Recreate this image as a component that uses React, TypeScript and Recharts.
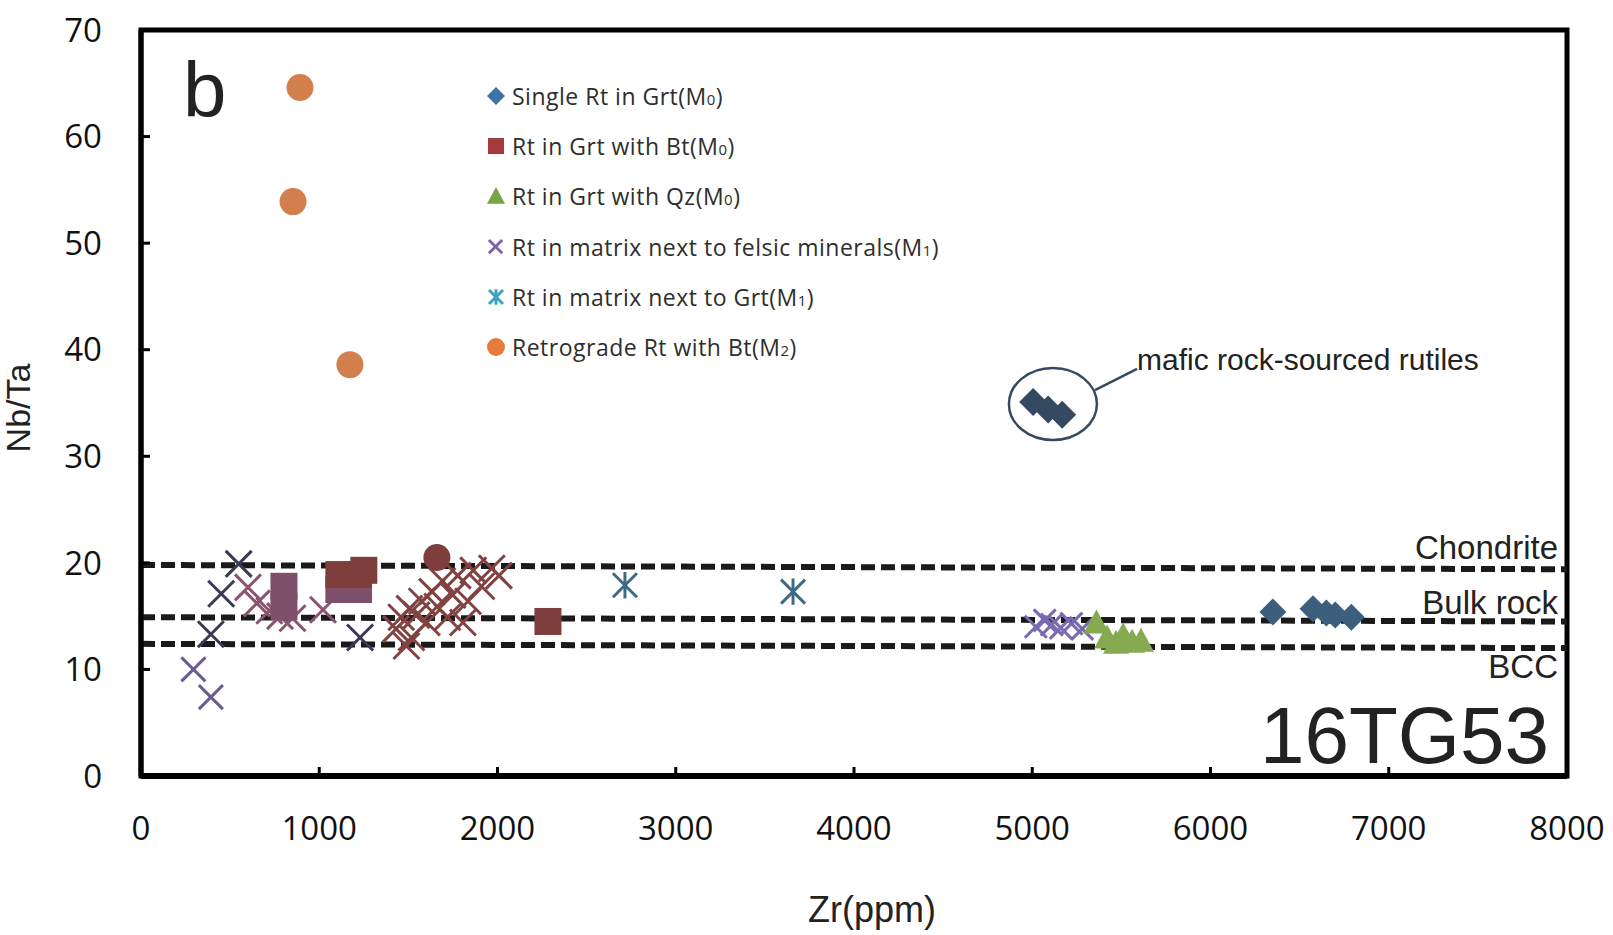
import { ScatterChart, Scatter, XAxis, YAxis, ReferenceLine, ReferenceArea, ReferenceDot, Legend } from 'recharts';

// Zr (ppm) vs Nb/Ta, sample 16TG53
const xTicks = [0, 1000, 2000, 3000, 4000, 5000, 6000, 7000, 8000];
const yTicks = [0, 10, 20, 30, 40, 50, 60, 70];

const singleRtInGrt = [
  { x: 6350, y: 15.4 }, { x: 6575, y: 15.7 }, { x: 6650, y: 15.3 }, { x: 6700, y: 15.1 }, { x: 6790, y: 14.9 },
];
const maficRutiles = [
  { x: 5005, y: 35.1 }, { x: 5089, y: 34.4 }, { x: 5168, y: 33.9 },
];
const rtWithBtMauve = [
  { x: 802, y: 17.8 }, { x: 802, y: 15.9 }, { x: 1110, y: 17.5 }, { x: 1220, y: 17.5 },
];
const rtWithBt = [
  { x: 1110, y: 18.9 }, { x: 1220, y: 18.9 }, { x: 1250, y: 19.3 }, { x: 2283, y: 14.5 },
];
const rtWithQz = [
  { x: 5360, y: 14.4 }, { x: 5420, y: 13.0 }, { x: 5470, y: 12.5 }, { x: 5510, y: 13.2 }, { x: 5560, y: 12.6 }, { x: 5610, y: 12.7 },
];
const felsicNavy = [
  { x: 548, y: 19.9 }, { x: 450, y: 17.1 }, { x: 392, y: 13.3 }, { x: 1229, y: 13.0 },
];
const felsicPurple = [
  { x: 294, y: 10.0 }, { x: 392, y: 7.4 },
];
const felsicMauve = [
  { x: 600, y: 17.7 }, { x: 650, y: 16.2 }, { x: 720, y: 15.5 }, { x: 780, y: 15.0 }, { x: 850, y: 14.8 }, { x: 1021, y: 15.6 },
];
const felsicMaroon = [
  { x: 1431, y: 13.8 }, { x: 1460, y: 14.9 }, { x: 1506, y: 15.7 }, { x: 1546, y: 15.1 }, { x: 1575, y: 16.4 },
  { x: 1604, y: 14.4 }, { x: 1633, y: 17.3 }, { x: 1662, y: 15.9 }, { x: 1691, y: 18.3 }, { x: 1719, y: 14.9 },
  { x: 1748, y: 17.0 }, { x: 1777, y: 18.8 }, { x: 1806, y: 14.4 }, { x: 1835, y: 16.4 }, { x: 1864, y: 19.3 },
  { x: 1910, y: 17.8 }, { x: 1968, y: 19.5 }, { x: 2008, y: 18.8 }, { x: 1517, y: 13.0 }, { x: 1489, y: 12.2 },
];
const felsicRight = [
  { x: 5020, y: 14.0 }, { x: 5070, y: 14.6 }, { x: 5110, y: 14.2 }, { x: 5160, y: 13.9 }, { x: 5220, y: 14.3 }, { x: 5280, y: 13.8 },
];
const nextToGrt = [
  { x: 2715, y: 17.9 }, { x: 3658, y: 17.3 },
];
const retrograde = [
  { x: 892, y: 64.6 }, { x: 853, y: 53.9 }, { x: 1172, y: 38.6 },
];
const retrogradeMaroon = [
  { x: 1660, y: 20.5 },
];

const chondrite = [{ x: 0, y: 19.8 }, { x: 8000, y: 19.4 }];
const bulkRock = [{ x: 0, y: 14.9 }, { x: 8000, y: 14.5 }];
const bcc = [{ x: 0, y: 12.4 }, { x: 8000, y: 12.0 }];

const legendItems = [
  { kind: 'diamond', color: '#3f74a8', label: 'Single Rt in Grt(M', sub: '0' },
  { kind: 'square', color: '#a33c3e', label: 'Rt in Grt with Bt(M', sub: '0' },
  { kind: 'triangle', color: '#79a446', label: 'Rt in Grt with Qz(M', sub: '0' },
  { kind: 'x', color: '#7c62ab', label: 'Rt in matrix next to felsic minerals(M', sub: '1' },
  { kind: 'star', color: '#3aa4bf', label: 'Rt in matrix next to Grt(M', sub: '1' },
  { kind: 'circle', color: '#e57c3b', label: 'Retrograde Rt with Bt(M', sub: '2' },
];

const diamond = (color: string, s: number) => (p: any) => (
  <polygon points={`${p.cx},${p.cy - s} ${p.cx + s},${p.cy} ${p.cx},${p.cy + s} ${p.cx - s},${p.cy}`} fill={color} />
);
const square = (color: string, s: number) => (p: any) => (
  <rect x={p.cx - s} y={p.cy - s} width={2 * s} height={2 * s} fill={color} />
);
const triangle = (color: string, s: number) => (p: any) => (
  <polygon points={`${p.cx},${p.cy - s} ${p.cx + s},${p.cy + s * 0.85} ${p.cx - s},${p.cy + s * 0.85}`} fill={color} />
);
const circle = (color: string, r: number) => (p: any) => <circle cx={p.cx} cy={p.cy} r={r} fill={color} />;
const xMark = (color: string, s: number) => (p: any) => (
  <g stroke={color} strokeWidth={3}>
    <line x1={p.cx - s} y1={p.cy - s} x2={p.cx + s} y2={p.cy + s} />
    <line x1={p.cx - s} y1={p.cy + s} x2={p.cx + s} y2={p.cy - s} />
  </g>
);
const star = (color: string, s: number) => (p: any) => (
  <g stroke={color} strokeWidth={3}>
    <line x1={p.cx - s} y1={p.cy - s} x2={p.cx + s} y2={p.cy + s} />
    <line x1={p.cx - s} y1={p.cy + s} x2={p.cx + s} y2={p.cy - s} />
    <line x1={p.cx} y1={p.cy - s * 1.1} x2={p.cx} y2={p.cy + s * 1.1} />
  </g>
);

const legendIcon = (kind: string, color: string) => {
  const p = { cx: 9, cy: 9 };
  if (kind === 'diamond') return diamond(color, 9)(p);
  if (kind === 'square') return square(color, 8)(p);
  if (kind === 'triangle') return triangle(color, 9)(p);
  if (kind === 'x') return <g transform="scale(0.95)">{xMark(color, 7)(p)}</g>;
  if (kind === 'star') return star(color, 7)(p);
  return circle(color, 9)(p);
};

const renderLegend = () => (
  <div style={{ fontFamily: '"Open Sans", sans-serif', fontSize: 23, letterSpacing: 0.5, color: '#2e2e2e' }}>
    {legendItems.map((it) => (
      <div key={it.label} style={{ display: 'flex', alignItems: 'center', height: 50.2, whiteSpace: 'nowrap' }}>
        <svg width={18} height={18} style={{ marginRight: 7 }}>{legendIcon(it.kind, it.color)}</svg>
        <span>
          {it.label}
          <span style={{ fontSize: 15 }}>{it.sub}</span>)
        </span>
      </div>
    ))}
  </div>
);

const dash = { stroke: '#1a1a1a', strokeWidth: 6, strokeDasharray: '14 6' };
const tickFont = { fontFamily: '"Open Sans", sans-serif', fontSize: 33, fill: '#111' };

export default function App() {
  return (
    <div style={{ position: 'absolute', left: 0, top: 0, width: 1613, height: 935, background: '#fff' }}>
      <ScatterChart width={1613} height={935} margin={{ top: 30, right: 46, bottom: 0, left: 0 }}>
        <XAxis
          type="number"
          dataKey="x"
          domain={[0, 8000]}
          ticks={xTicks}
          height={159}
          tickSize={-9}
          tickMargin={50}
          tick={tickFont}
          axisLine={{ stroke: '#000', strokeWidth: 6 }}
          tickLine={{ stroke: '#000', strokeWidth: 3 }}
        />
        <YAxis
          type="number"
          dataKey="y"
          domain={[0, 70]}
          ticks={yTicks}
          width={141}
          tickSize={-9}
          tickMargin={48}
          tick={tickFont}
          axisLine={{ stroke: '#000', strokeWidth: 5 }}
          tickLine={{ stroke: '#000', strokeWidth: 3 }}
        />
        <ReferenceArea x1={0} x2={8000} y1={0} y2={70} fill="none" fillOpacity={0} stroke="#000" strokeWidth={5} />
        <ReferenceLine segment={chondrite} {...dash} />
        <ReferenceLine segment={bulkRock} {...dash} />
        <ReferenceLine segment={bcc} {...dash} />

        <Scatter name="felsicPurple" data={felsicPurple} shape={xMark('#6a5b92', 12)} isAnimationActive={false} />
        <Scatter name="felsicNavy" data={felsicNavy} shape={xMark('#3b3a55', 13)} isAnimationActive={false} />
        <Scatter name="felsicMauve" data={felsicMauve} shape={xMark('#8a5470', 13)} isAnimationActive={false} />
        <Scatter name="rtWithBtMauve" data={rtWithBtMauve} shape={square('#7d4f6a', 13.5)} isAnimationActive={false} />
        <Scatter name="rtWithBt" data={rtWithBt} shape={square('#7f3e3e', 13.5)} isAnimationActive={false} />
        <Scatter name="felsicMaroon" data={felsicMaroon} shape={xMark('#834242', 13)} isAnimationActive={false} />
        <Scatter name="retrogradeMaroon" data={retrogradeMaroon} shape={circle('#7f3e3e', 13.5)} isAnimationActive={false} />
        <Scatter name="nextToGrt" data={nextToGrt} shape={star('#3f6a86', 12)} isAnimationActive={false} />
        <Scatter name="felsicRight" data={felsicRight} shape={xMark('#7a6aae', 11)} isAnimationActive={false} />
        <Scatter name="rtWithQz" data={rtWithQz} shape={triangle('#86aa50', 13)} isAnimationActive={false} />
        <Scatter name="singleRtInGrt" data={singleRtInGrt} shape={diamond('#3d5f7e', 13.5)} isAnimationActive={false} />
        <Scatter name="maficRutiles" data={maficRutiles} shape={diamond('#354a62', 14)} isAnimationActive={false} />
        <Scatter name="retrograde" data={retrograde} shape={circle('#d27f4d', 13.5)} isAnimationActive={false} />

        <ReferenceDot
          x={5116}
          y={34.9}
          shape={(p: any) => <ellipse cx={p.cx} cy={p.cy} rx={44} ry={36} fill="none" stroke="#354a62" strokeWidth={2.5} />}
        />
        <ReferenceLine segment={[{ x: 5352, y: 36.2 }, { x: 5588, y: 38.2 }]} stroke="#354a62" strokeWidth={2.5} />

        <Legend
          content={renderLegend}
          layout="vertical"
          align="center"
          verticalAlign="middle"
          wrapperStyle={{ left: 487, top: 71, width: 580 }}
        />
      </ScatterChart>

      <svg width={1613} height={935} style={{ position: 'absolute', left: 0, top: 0, pointerEvents: 'none' }}>
        <g fontFamily='"Liberation Sans", Arial, sans-serif' fill="#222">
          <text x={183} y={117} fontSize={78}>b</text>
          <text x={1549} y={763} fontSize={80} textAnchor="end">16TG53</text>
          <text x={1558} y={559} fontSize={33} textAnchor="end">Chondrite</text>
          <text x={1558} y={614} fontSize={33} textAnchor="end">Bulk rock</text>
          <text x={1558} y={678} fontSize={33} textAnchor="end">BCC</text>
          <text x={1137} y={370} fontSize={30}>mafic rock-sourced rutiles</text>
          <text x={872} y={922} fontSize={36} textAnchor="middle">Zr(ppm)</text>
          <text x={30} y={408} fontSize={34} textAnchor="middle" transform="rotate(-90 30 408)">Nb/Ta</text>
        </g>
      </svg>
    </div>
  );
}
